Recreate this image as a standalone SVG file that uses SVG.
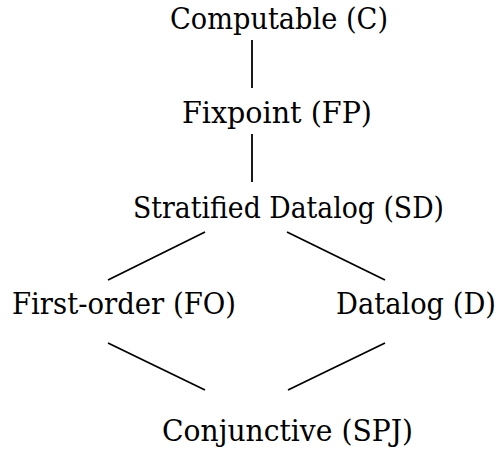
<svg xmlns="http://www.w3.org/2000/svg" width="501" height="450" viewBox="0 0 501 450">
<style>
.lbl { font-family: 'DejaVu Serif', 'Liberation Serif', serif; font-size: 29.5px; fill: #000; }
.edge { stroke: #000; stroke-width: 1.8; fill: none; }
</style>
<rect width="501" height="450" fill="#fff"/>
<g id="edges">
<line class="edge" x1="252" y1="40" x2="252" y2="88"/>
<line class="edge" x1="252" y1="134" x2="252" y2="182"/>
<line class="edge" x1="205" y1="232" x2="108" y2="280"/>
<line class="edge" x1="287" y1="232" x2="385" y2="280"/>
<line class="edge" x1="108" y1="343" x2="205" y2="390"/>
<line class="edge" x1="385" y1="343" x2="288" y2="390"/>
</g>
<g id="C"><text class="lbl" x="170" y="29" textLength="218" lengthAdjust="spacingAndGlyphs">Computable (C)</text></g>
<g id="FP"><text class="lbl" x="182" y="123" textLength="190" lengthAdjust="spacingAndGlyphs">Fixpoint (FP)</text></g>
<g id="SD"><text class="lbl" x="133" y="218" textLength="311" lengthAdjust="spacingAndGlyphs">Stratified Datalog (SD)</text></g>
<g id="FO"><text class="lbl" x="12" y="314" textLength="224" lengthAdjust="spacingAndGlyphs">First-order (FO)</text></g>
<g id="D"><text class="lbl" x="496" y="314" text-anchor="end" textLength="160" lengthAdjust="spacingAndGlyphs">Datalog (D)</text></g>
<g id="SPJ"><text class="lbl" x="162" y="441" textLength="251" lengthAdjust="spacingAndGlyphs">Conjunctive (SPJ)</text></g>
</svg>
